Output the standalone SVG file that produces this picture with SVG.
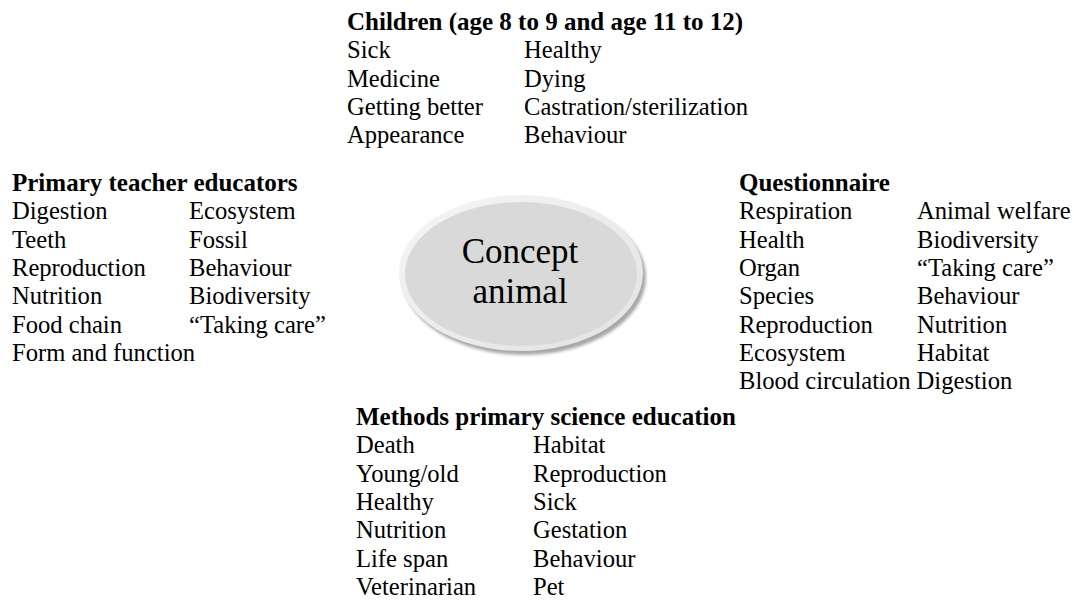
<svg xmlns="http://www.w3.org/2000/svg" width="1074" height="600" viewBox="0 0 1074 600">
<style>
text{font-family:'Liberation Serif','Times New Roman',serif;font-size:24.6px;fill:#000}
.h{font-weight:bold;font-size:25px}
.c{font-size:35px;text-anchor:middle}
</style>
<defs>
<filter id="blur" x="-10%" y="-10%" width="120%" height="130%"><feGaussianBlur stdDeviation="1.6"/></filter>
<linearGradient id="rim" x1="0" y1="0" x2="1" y2="1">
<stop offset="0" stop-color="#f6f6f6"/>
<stop offset="1" stop-color="#e2e2e2"/>
</linearGradient>
</defs>
<rect width="1074" height="600" fill="#fff"/>
<g id="connectors"></g>
<g id="concept">
<ellipse cx="524" cy="277" rx="122" ry="78" fill="#a8a8a8" filter="url(#blur)"/>
<ellipse cx="521" cy="273" rx="122" ry="78" fill="url(#rim)"/>
<ellipse cx="521" cy="274" rx="116" ry="72" fill="#d9d9d9"/>
<text class="c" x="520" y="263">Concept</text>
<text class="c" x="520" y="303">animal</text>
</g>
<g id="children">
<text class="h" x="347" y="30">Children (age 8 to 9 and age 11 to 12)</text>
<text x="347" y="58.3">Sick</text><text x="524" y="58.3">Healthy</text>
<text x="347" y="86.6">Medicine</text><text x="524" y="86.6">Dying</text>
<text x="347" y="114.9">Getting better</text><text x="524" y="114.9">Castration/sterilization</text>
<text x="347" y="143.2">Appearance</text><text x="524" y="143.2">Behaviour</text>
</g>
<g id="teachers">
<text class="h" x="12" y="191">Primary teacher educators</text>
<text x="12" y="219.3">Digestion</text><text x="189" y="219.3">Ecosystem</text>
<text x="12" y="247.6">Teeth</text><text x="189" y="247.6">Fossil</text>
<text x="12" y="275.9">Reproduction</text><text x="189" y="275.9">Behaviour</text>
<text x="12" y="304.2">Nutrition</text><text x="189" y="304.2">Biodiversity</text>
<text x="12" y="332.5">Food chain</text><text x="189" y="332.5">“Taking care”</text>
<text x="12" y="360.8">Form and function</text>
</g>
<g id="questionnaire">
<text class="h" x="739" y="191">Questionnaire</text>
<text x="739" y="219.3">Respiration</text><text x="917" y="219.3">Animal welfare</text>
<text x="739" y="247.6">Health</text><text x="917" y="247.6">Biodiversity</text>
<text x="739" y="275.9">Organ</text><text x="917" y="275.9">“Taking care”</text>
<text x="739" y="304.2">Species</text><text x="917" y="304.2">Behaviour</text>
<text x="739" y="332.5">Reproduction</text><text x="917" y="332.5">Nutrition</text>
<text x="739" y="360.8">Ecosystem</text><text x="917" y="360.8">Habitat</text>
<text x="739" y="389.1">Blood circulation Digestion</text>
</g>
<g id="methods">
<text class="h" x="356" y="425">Methods primary science education</text>
<text x="356" y="453.3">Death</text><text x="533" y="453.3">Habitat</text>
<text x="356" y="481.6">Young/old</text><text x="533" y="481.6">Reproduction</text>
<text x="356" y="509.9">Healthy</text><text x="533" y="509.9">Sick</text>
<text x="356" y="538.2">Nutrition</text><text x="533" y="538.2">Gestation</text>
<text x="356" y="566.5">Life span</text><text x="533" y="566.5">Behaviour</text>
<text x="356" y="594.8">Veterinarian</text><text x="533" y="594.8">Pet</text>
</g>
</svg>
